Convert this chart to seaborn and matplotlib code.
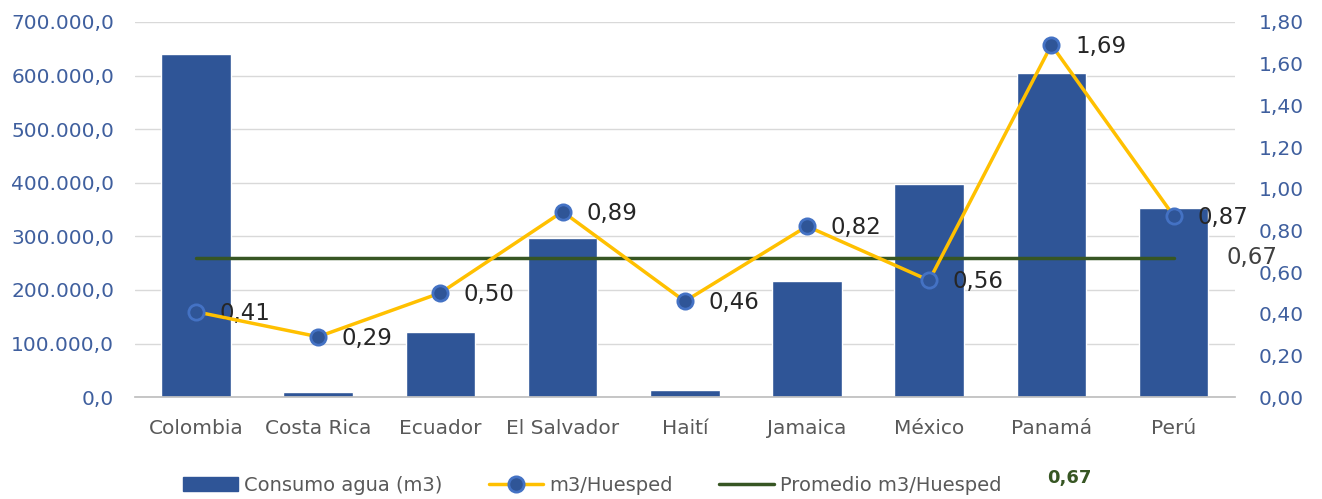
import numpy as np
import pandas as pd
import matplotlib
matplotlib.use("Agg")
import matplotlib.pyplot as plt
import seaborn as sns
from matplotlib.lines import Line2D
from matplotlib.patches import Patch
from matplotlib.ticker import FuncFormatter

# Datos
paises = ["Colombia", "Costa Rica", "Ecuador", "El Salvador", "Haití",
          "Jamaica", "México", "Panamá", "Perú"]
consumo_agua = [640000, 9000, 121000, 297000, 13000, 217000, 398000, 605000, 353000]
m3_huesped = [0.41, 0.29, 0.50, 0.89, 0.46, 0.82, 0.56, 1.69, 0.87]
promedio = 0.67

# Colores
AZUL_BARRA = "#2F5597"
AZUL_BORDE = "#4472C4"
AMARILLO = "#FFC000"
VERDE = "#375623"
AZUL_TICK = "#3F5F9E"
GRIS = "#595959"

sns.set_theme(style="white")
plt.rcParams['font.family'] = ['DejaVu Sans']

df = pd.DataFrame({"pais": paises, "consumo": consumo_agua,
                   "ratio": m3_huesped, "prom": [promedio] * len(paises)})

fig = plt.figure(figsize=(13.22, 4.99), dpi=100)
ax = fig.add_axes([0.102, 0.204, 0.832, 0.752])

# Barras: consumo de agua
sns.barplot(data=df, x="pais", y="consumo", ax=ax, color=AZUL_BARRA,
            width=0.57, saturation=1, zorder=2)
ax.set_ylim(0, 700000)
ax.set_yticks(np.arange(0, 700001, 100000))
ax.yaxis.set_major_formatter(FuncFormatter(
    lambda v, p: "{:,.1f}".format(v).replace(",", "X").replace(".", ",").replace("X", ".")))
ax.grid(axis="y", color="#D9D9D9", linewidth=1, zorder=0)
ax.set_axisbelow(True)
for s in ["top", "left", "right"]:
    ax.spines[s].set_visible(False)
ax.spines["bottom"].set_color("#BFBFBF")
ax.tick_params(axis="y", colors=AZUL_TICK, labelsize=14.5, length=0, pad=15)
ax.tick_params(axis="x", colors=GRIS, labelsize=14.5, length=0, pad=16)
ax.set_xlabel("")
ax.set_ylabel("")
ax.set_xlim(-0.5, len(paises) - 0.5)

# Eje secundario: m3/Huesped y promedio
ax2 = ax.twinx()
x = np.arange(len(paises))
ax2.plot(x, df["prom"], color=VERDE, linewidth=2.5, zorder=3)
sns.lineplot(x=x, y=df["ratio"], ax=ax2, color=AMARILLO, linewidth=2.5,
             marker="o", markersize=11, markerfacecolor=AZUL_BARRA,
             markeredgecolor=AZUL_BORDE, markeredgewidth=2, zorder=4)
ax2.set_ylim(0, 1.8)
ax2.set_yticks(np.arange(0, 1.81, 0.2))
ax2.yaxis.set_major_formatter(FuncFormatter(lambda v, p: "{:.2f}".format(v).replace(".", ",")))
ax2.tick_params(axis="y", colors=AZUL_TICK, labelsize=14.5, length=0, pad=17)
for s in ["top", "left", "right", "bottom"]:
    ax2.spines[s].set_visible(False)
ax2.set_ylabel("")
ax2.set_xlim(-0.5, len(paises) - 0.5)

for xi, v in zip(x, m3_huesped):
    ax2.annotate("{:.2f}".format(v).replace(".", ","), (xi, v), xytext=(17, -1),
                 textcoords="offset points", fontsize=16.5, color="#262626",
                 va="center", ha="left")
ax2.annotate("{:.2f}".format(promedio).replace(".", ","), (x[-1], promedio),
             xytext=(38, 0), textcoords="offset points", fontsize=16.5,
             color="#404040", va="center", ha="left")

# Leyenda
handles = [Patch(facecolor=AZUL_BARRA, edgecolor=AZUL_BARRA),
           Line2D([0], [0], color=AMARILLO, linewidth=2.5, marker="o", markersize=11,
                  markerfacecolor=AZUL_BARRA, markeredgecolor=AZUL_BORDE, markeredgewidth=2),
           Line2D([0], [0], color=VERDE, linewidth=2.5)]
labels = ["Consumo agua (m3)", "m3/Huesped", "Promedio m3/Huesped"]
leg = fig.legend(handles, labels, loc="center", bbox_to_anchor=(0.448, 0.028), ncol=3,
                 frameon=False, fontsize=14, handlelength=2.8, columnspacing=2.4,
                 handletextpad=0.3)
for t in leg.get_texts():
    t.set_color(GRIS)
fig.text(0.792, 0.042, "0,67", color=VERDE, fontsize=13, fontweight="bold",
         ha="left", va="center")

fig.savefig("out.png", dpi=100)
